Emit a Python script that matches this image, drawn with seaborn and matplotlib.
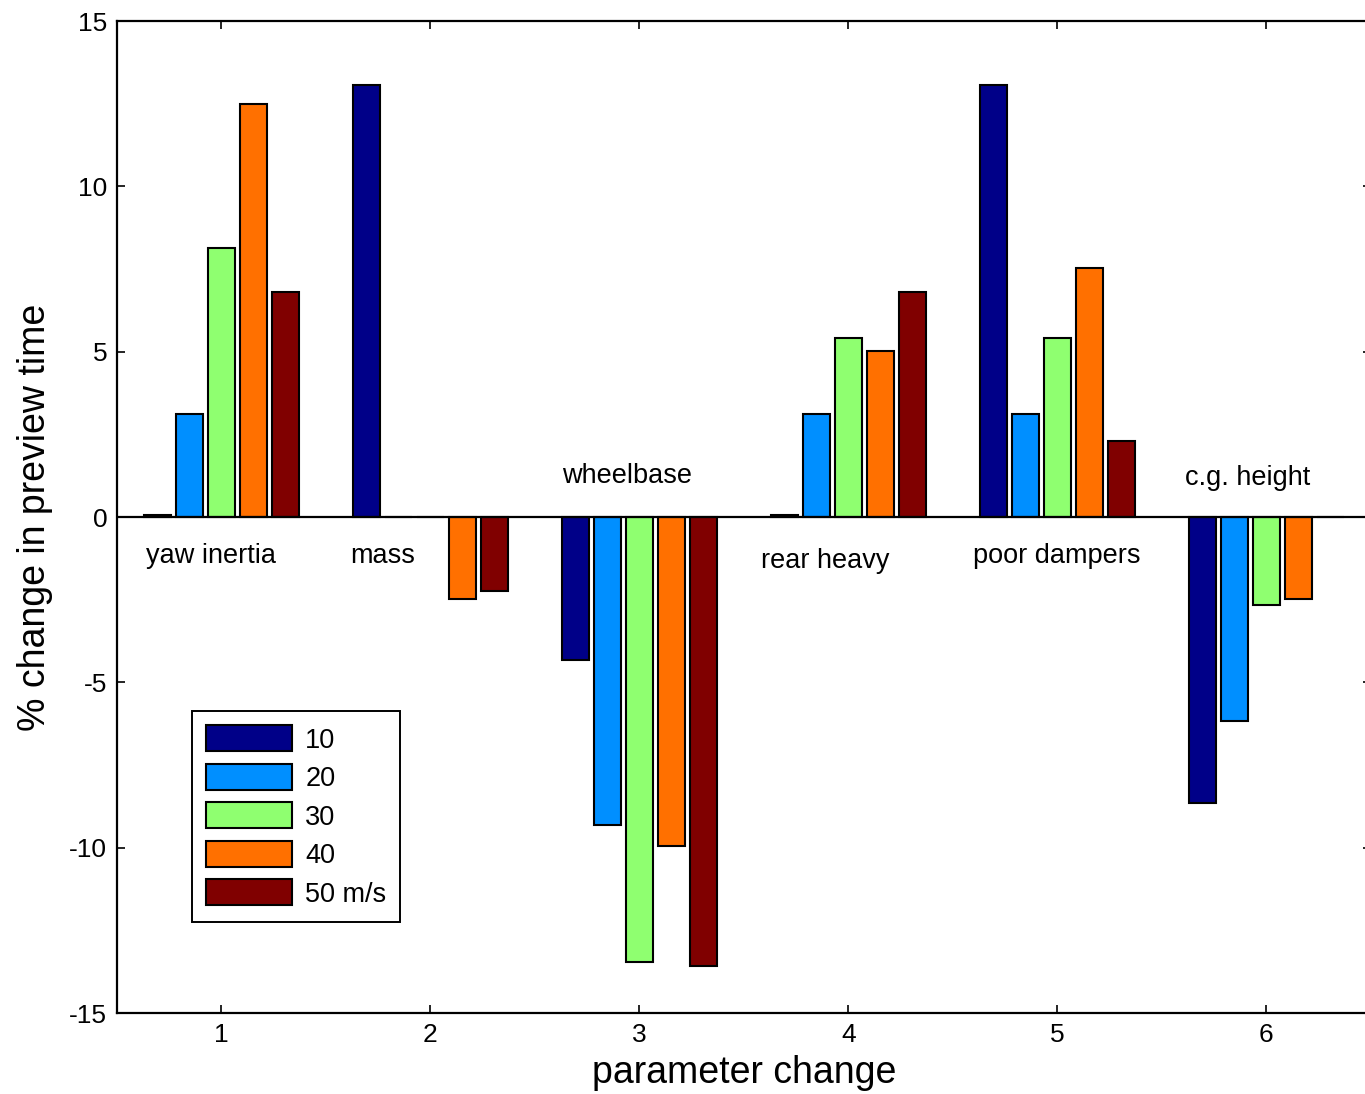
import pandas as pd
import seaborn as sns
import matplotlib.pyplot as plt

# ---------------------------------------
# Data
# ---------------------------------------
params = ["1", "2", "3", "4", "5", "6"]
speeds = ["10", "20", "30", "40", "50 m/s"]

v10 = [0.05, 13.05, -4.33, 0.05, 13.05, -8.65]
v20 = [3.12, 0.0, -9.30, 3.12, 3.12, -6.17]
v30 = [8.15, 0.0, -13.45, 5.40, 5.40, -2.67]
v40 = [12.50, -2.48, -9.95, 5.03, 7.52, -2.48]
v50 = [6.82, -2.24, -13.57, 6.82, 2.30, 0.0]

names = ["yaw inertia", "mass", "wheelbase", "rear heavy", "poor dampers", "c.g. height"]

colors = ["#000088", "#008FFF", "#8FFF70", "#FF7000", "#800000"]

rows = []
for s, vals in zip(speeds, [v10, v20, v30, v40, v50]):
    for p, v in zip(params, vals):
        rows.append({"param": p, "speed": s, "value": v})
df = pd.DataFrame(rows)

# ---------------------------------------
# Style
# ---------------------------------------
sns.set_theme(style="ticks")
plt.rcParams["font.family"] = ["Liberation Sans", "DejaVu Sans"]
plt.rcParams["axes.unicode_minus"] = False
plt.rcParams["text.color"] = "black"
plt.rcParams["axes.labelcolor"] = "black"

fig = plt.figure(figsize=(13.65, 10.94), dpi=100)
ax = fig.add_axes([0.0857, 0.074, 0.9184, 0.9068])

sns.barplot(
    data=df, x="param", y="value", hue="speed",
    order=params, hue_order=speeds, palette=colors,
    width=0.766, gap=0.16, edgecolor="black", linewidth=1.5,
    saturation=1, errorbar=None, ax=ax
)

ax.axhline(0, color="black", lw=1.6, zorder=3)

ax.set_xlim(-0.5, 5.5)
ax.set_ylim(-15, 15)
ax.set_yticks([-15, -10, -5, 0, 5, 10, 15])
ax.set_xlabel("parameter change", fontsize=27, labelpad=6)
ax.set_ylabel("% change in preview time", fontsize=27, labelpad=12)
ax.tick_params(direction="in", top=True, right=True, length=6, width=1.2,
               labelsize=19, colors="black", pad=7)
for sp in ax.spines.values():
    sp.set_linewidth(1.6)
    sp.set_color("black")

# group annotations
label_pos = [(-0.05, -1.18), (0.77, -1.18), (1.94, 1.24),
             (2.89, -1.33), (4.0, -1.18), (4.91, 1.18)]
for n, (x, y) in zip(names, label_pos):
    ax.text(x, y, n, ha="center", va="center", fontsize=19.5)

sns.move_legend(
    ax, "lower left", bbox_to_anchor=(0.06, 0.092), title=None,
    frameon=True, fontsize=19.5, handlelength=3.15, handleheight=1.1,
    labelspacing=0.38, handletextpad=0.5, borderpad=0.52, borderaxespad=0,
    fancybox=False, edgecolor="black", framealpha=1
)
ax.get_legend().get_frame().set_linewidth(1.4)

fig.savefig("out.png", dpi=100)
